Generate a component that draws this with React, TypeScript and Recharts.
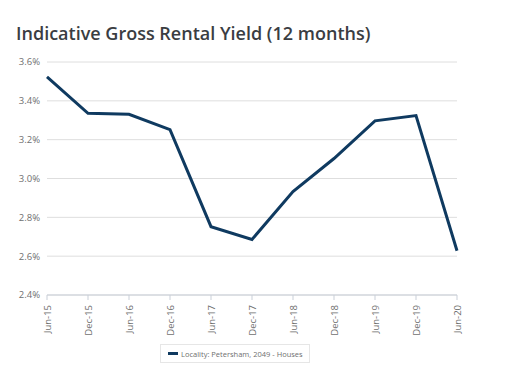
import React from "react";
import { LineChart, Line, XAxis, YAxis, CartesianGrid, Legend } from "recharts";

const categories = ["Jun-15", "Dec-15", "Jun-16", "Dec-16", "Jun-17", "Dec-17", "Jun-18", "Dec-18", "Jun-19", "Dec-19", "Jun-20"];
const yieldValues = [3.523, 3.336, 3.331, 3.252, 2.752, 2.686, 2.933, 3.103, 3.297, 3.324, 2.628];
const yTicks = [2.4, 2.6, 2.8, 3.0, 3.2, 3.4, 3.6];
const seriesName = "Locality: Petersham, 2049 - Houses";
const title = "Indicative Gross Rental Yield (12 months)";

const data = categories.map((c, i) => ({ period: c, value: yieldValues[i] }));

const LINE_COLOR = "#0f3a60";

const XTick = (props: any) => {
  const { x, y, payload } = props;
  return (
    <text
      x={0}
      y={0}
      transform={`translate(${x + 3.5},${y + 3}) rotate(-90)`}
      textAnchor="end"
      fontSize={9.5}
      fill="#6f6f6f"
      fontFamily="Open Sans, sans-serif"
    >
      {payload.value}
    </text>
  );
};

const LegendContent = () => (
  <div
    style={{
      border: "1px solid #e6e6e6",
      height: 19,
      width: 150,
      boxSizing: "border-box",
      display: "flex",
      alignItems: "center",
      paddingLeft: 7,
      fontFamily: "Open Sans, sans-serif",
      fontSize: 7.5,
      color: "#6f6f6f",
      whiteSpace: "nowrap",
    }}
  >
    <span style={{ display: "inline-block", width: 10, height: 3, background: LINE_COLOR, marginRight: 3 }} />
    {seriesName}
  </div>
);

export default function App() {
  return (
    <div style={{ position: "absolute", left: 0, top: 0, width: 524, height: 378, background: "#fff" }}>
      <div
        style={{
          position: "absolute",
          left: 16,
          top: 21,
          fontFamily: "Open Sans, sans-serif",
          fontWeight: 600,
          fontSize: 18,
          color: "#3a3d42",
          whiteSpace: "nowrap",
        }}
      >
        {title}
      </div>
      <LineChart
        width={524}
        height={378}
        data={data}
        margin={{ top: 62, right: 67, bottom: 19, left: 0 }}
      >
        <CartesianGrid vertical={false} stroke="#dedede" strokeWidth={1} />
        <XAxis
          dataKey="period"
          interval={0}
          tick={<XTick />}
          tickSize={5}
          tickLine={{ stroke: "#c9cfd8" }}
          axisLine={{ stroke: "#c9cfd8" }}
          height={45}
        />
        <YAxis
          domain={[2.4, 3.6]}
          ticks={yTicks}
          width={47}
          axisLine={false}
          tickLine={false}
          tickSize={5}
          tickMargin={2}
          tickFormatter={(v: number) => `${v.toFixed(1)}%`}
          tick={{ fontSize: 9.5, fill: "#6f6f6f", fontFamily: "Open Sans, sans-serif" }}
        />
        <Legend
          content={<LegendContent />}
          wrapperStyle={{ left: 160, top: 344, width: 150, bottom: "auto" }}
        />
        <Line
          type="linear"
          dataKey="value"
          name={seriesName}
          stroke={LINE_COLOR}
          strokeWidth={3}
          dot={false}
          activeDot={false}
          isAnimationActive={false}
        />
      </LineChart>
    </div>
  );
}
